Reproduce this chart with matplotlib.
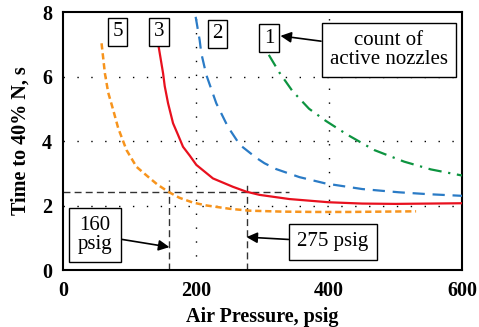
import numpy as np
import matplotlib.pyplot as plt

plt.rcParams['font.family'] = ['Liberation Serif', 'DejaVu Serif']

# curves (x = air pressure psig, y = time s)
x5 = [58, 63, 68, 75, 83, 95.5, 110.5, 128, 142, 158, 175, 195.5, 216, 250, 280, 330, 380, 430, 480, 531]
y5 = [7.03, 6.1, 5.5, 5.0, 4.4, 3.72, 3.2, 2.89, 2.65, 2.43, 2.24, 2.09, 2.0, 1.9, 1.84, 1.81, 1.8, 1.8, 1.81, 1.82]

x3 = [143, 150.5, 153, 158, 165.5, 173, 180.5, 190.5, 200.5, 225.5, 255.5, 275.5,
      295.5, 340.5, 400, 450, 500, 550, 600]
y3 = [7.03, 6.1, 5.7, 5.17, 4.55, 4.19, 3.82, 3.55, 3.26, 2.84, 2.58, 2.43,
      2.33, 2.2, 2.1, 2.06, 2.05, 2.06, 2.07]

x2 = [199.5, 205.5, 208, 215.5, 230.5, 248, 266, 290.5, 303, 320.5, 355.5,
      395.5, 450, 505, 550, 600]
y2 = [7.85, 7.13, 6.72, 6.05, 5.17, 4.44, 3.88, 3.48, 3.31, 3.13, 2.88,
      2.68, 2.51, 2.41, 2.35, 2.3]

x1 = [309.5, 325.5, 345, 370, 395.5, 428, 468, 513, 553, 600]
y1 = [6.67, 6.12, 5.55, 5.0, 4.62, 4.19, 3.72, 3.36, 3.12, 2.93]

curve_labels = ["5", "3", "2", "1"]
label_pos = [(82, 7.38), (144, 7.38), (232, 7.33), (310, 7.19)]

ref_time = 2.42
ref_pressures = [160, 276]

fig = plt.figure(figsize=(4.79, 3.27), dpi=100)
ax = fig.add_axes([0.1315, 0.1743, 0.833, 0.789])

# dotted grid
for gx in [200, 400]:
    ax.plot([gx, gx], [0, 8], color='k', lw=1.0, linestyle=(0, (1, 9)), zorder=1)
for gy in [2, 4, 6]:
    ax.plot([0, 600], [gy, gy], color='k', lw=1.0, linestyle=(0, (1, 9)), zorder=1)

# reference lines
ax.plot([0, 340], [ref_time, ref_time], color='#333333', lw=1.0, linestyle=(0, (5, 3)), zorder=2)
ax.plot([ref_pressures[0]] * 2, [0, 2.79], color='#333333', lw=1.0, linestyle=(0, (5, 3)), zorder=2)
ax.plot([ref_pressures[1]] * 2, [0, 2.73], color='#333333', lw=1.0, linestyle=(0, (5, 3)), zorder=2)

ax.plot(x5, y5, color='#f7941d', lw=1.8, linestyle=(0, (2.5, 1.5)), zorder=3)
ax.plot(x3, y3, color='#e8101e', lw=1.6, zorder=3)
ax.plot(x2, y2, color='#2a7bc6', lw=1.6, linestyle=(0, (5.5, 3.5)), zorder=3)
ax.plot(x1, y1, color='#0d9440', lw=1.6, linestyle=(0, (6, 3, 1, 3)), zorder=3)

box = dict(boxstyle='square,pad=0.22', fc='white', ec='k', lw=1.0)
for lab, (lx, ly) in zip(curve_labels, label_pos):
    ax.text(lx, ly, lab, fontsize=15, ha='center', va='center', bbox=box, zorder=5)

box2 = dict(boxstyle='square,pad=0.4', fc='white', ec='k', lw=1.0)
arrow = dict(arrowstyle='-|>', color='k', lw=1.2, mutation_scale=16, shrinkA=0, shrinkB=0)
ax.annotate('count of\nactive nozzles', xy=(327, 7.26), xytext=(490, 6.82),
            fontsize=15, ha='center', va='center', linespacing=1.0,
            bbox=box2, arrowprops=arrow, zorder=6)
ax.annotate('160\npsig', xy=(160, 0.71), xytext=(48, 1.085),
            fontsize=15, ha='center', va='center', linespacing=1.0,
            bbox=box2, arrowprops=arrow, zorder=6)
ax.annotate('275 psig', xy=(276, 1.02), xytext=(406, 0.87),
            fontsize=15, ha='center', va='center',
            bbox=box2, arrowprops=arrow, zorder=6)

ax.set_xlim(0, 600)
ax.set_ylim(0, 8)
ax.set_xticks([0, 200, 400, 600])
ax.set_yticks([0, 2, 4, 6, 8])
ax.tick_params(length=0, labelsize=14.5, pad=8)
for t in ax.get_xticklabels() + ax.get_yticklabels():
    t.set_fontweight('bold')
for s in ax.spines.values():
    s.set_linewidth(1.5)
ax.set_xlabel('Air Pressure, psig', fontsize=14.5, fontweight='bold', labelpad=4)
ax.set_ylabel('Time to 40% N, s', fontsize=14.5, fontweight='bold', labelpad=8)

fig.savefig('out.png', dpi=100)
